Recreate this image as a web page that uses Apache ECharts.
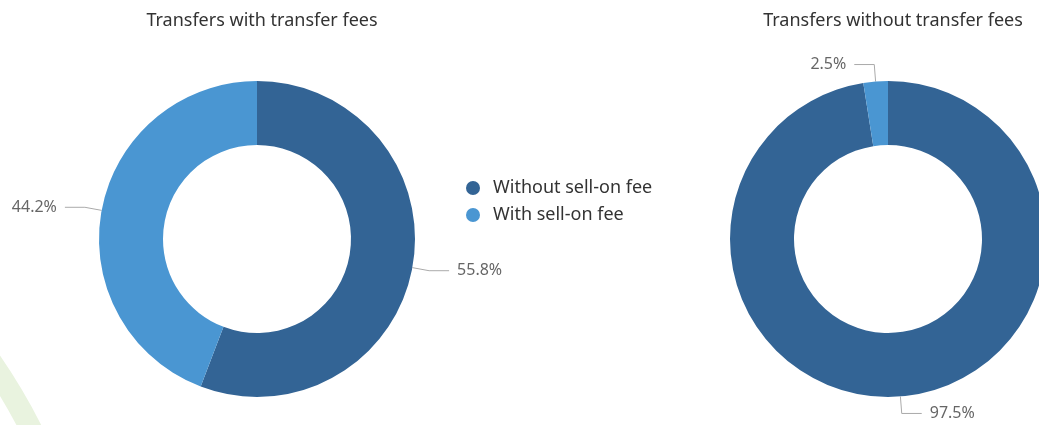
<!DOCTYPE html>
<html>
<head>
<meta charset="utf-8">
<script src="https://cdn.jsdelivr.net/npm/echarts@6/dist/echarts.min.js"></script>
<style>
  html, body { margin: 0; padding: 0; background: #fff; }
  #chart { width: 1039px; height: 425px; }
</style>
</head>
<body>
<div id="chart"></div>
<script>
// slice names (legend order)
const categories = ['Without sell-on fee', 'With sell-on fee'];
// share of transfers, percent
const withFeeValues = [55.8, 44.2];
const withoutFeeValues = [97.5, 2.5];
const chartTitles = ['Transfers with transfer fees', 'Transfers without transfer fees'];

const colors = ['#336495', '#4a96d2'];
const fontFamily = '"Noto Sans", "Open Sans", sans-serif';

function pieSeries(values, center) {
    return {
        type: 'pie',
        center: center,
        radius: [94, 158],
        startAngle: 90,
        clockwise: true,
        avoidLabelOverlap: false,
        emphasis: { disabled: true },
        label: {
            show: true,
            position: 'outside',
            formatter: '{c}%',
            color: '#666',
            fontSize: 16,
            fontFamily: fontFamily,
            distanceToLabelLine: 8
        },
        labelLine: {
            show: true,
            length: 17,
            length2: 20,
            lineStyle: { color: '#aaa', width: 1 }
        },
        data: categories.map((name, i) => ({ name: name, value: values[i] }))
    };
}

const chart = echarts.init(document.getElementById('chart'));

const option = {
    animation: false,
    color: colors,
    textStyle: { fontFamily: fontFamily },
    title: [
        {
            text: chartTitles[0],
            left: 257,
            top: 7,
            textAlign: 'center',
            textStyle: { fontSize: 18, fontWeight: 'normal', color: '#333', fontFamily: fontFamily }
        },
        {
            text: chartTitles[1],
            left: 888,
            top: 7,
            textAlign: 'center',
            textStyle: { fontSize: 18, fontWeight: 'normal', color: '#333', fontFamily: fontFamily }
        }
    ],
    legend: {
        orient: 'vertical',
        left: 461,
        top: 174,
        icon: 'circle',
        itemWidth: 14,
        itemHeight: 14,
        itemGap: 9,
        data: categories,
        textStyle: { fontSize: 18, color: '#333', fontFamily: fontFamily, padding: [0, 0, 0, 8] }
    },
    // faint background watermark arc in the lower left corner
    graphic: [{
        type: 'circle',
        z: -10,
        silent: true,
        shape: { cx: -500, cy: 700, r: 596 },
        style: { fill: null, stroke: '#e9f3df', lineWidth: 22 }
    }],
    series: [
        pieSeries(withFeeValues, [257, 239]),
        pieSeries(withoutFeeValues, [888, 239])
    ]
};

chart.setOption(option);
</script>
</body>
</html>
